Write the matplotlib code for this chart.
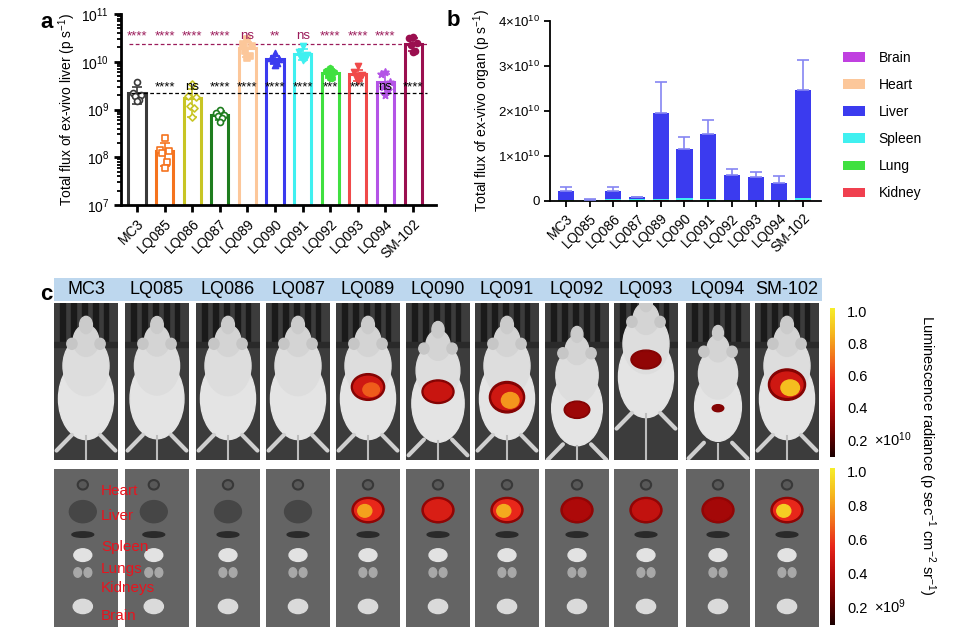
import numpy as np
import matplotlib
matplotlib.use("Agg")
import matplotlib.pyplot as plt
from matplotlib.patches import Rectangle, Ellipse, Patch
from matplotlib.colors import LinearSegmentedColormap, Normalize
from matplotlib.colorbar import ColorbarBase
from matplotlib.ticker import LogLocator, NullFormatter

plt.rcParams['font.family'] = ['Liberation Sans', 'DejaVu Sans']
plt.rcParams['mathtext.fontset'] = 'custom'
plt.rcParams['mathtext.rm'] = 'Liberation Sans'
plt.rcParams['mathtext.it'] = 'Liberation Sans:italic'
plt.rcParams['mathtext.bf'] = 'Liberation Sans:bold'

# ---------------- data ----------------
groups = ['MC3', 'LQ085', 'LQ086', 'LQ087', 'LQ089', 'LQ090', 'LQ091',
          'LQ092', 'LQ093', 'LQ094', 'SM-102']

# panel a: individual ex-vivo liver flux (p/s), 6 mice per group
liver_points = [
    [3.8e9, 2.2e9, 2.0e9, 1.9e9, 1.6e9, 1.5e9],
    [2.5e8, 1.45e8, 1.35e8, 1.25e8, 8.0e7, 6.0e7],
    [3.5e9, 1.9e9, 1.8e9, 1.2e9, 1.1e9, 7.0e8],
    [1.0e9, 8.5e8, 7.8e8, 7.2e8, 6.5e8, 5.5e8],
    [3.0e10, 2.4e10, 2.1e10, 1.7e10, 1.3e10, 1.2e10],
    [1.5e10, 1.2e10, 1.15e10, 1.1e10, 9.5e9, 8.5e9],
    [2.1e10, 1.6e10, 1.4e10, 1.3e10, 1.2e10, 1.1e10],
    [7.5e9, 6.5e9, 6.0e9, 5.2e9, 4.5e9, 4.5e9],
    [8.0e9, 6.0e9, 5.3e9, 4.8e9, 4.5e9, 4.0e9],
    [6.0e9, 5.5e9, 3.8e9, 3.0e9, 2.5e9, 2.0e9],
    [3.3e10, 3.1e10, 2.5e10, 2.2e10, 1.7e10, 1.6e10],
]
sig_vs_sm102 = ['****', '****', '****', '****', 'ns', '**', 'ns',
                '****', '****', '****', '']
sig_vs_mc3 = ['', '****', 'ns', '****', '****', '****', '****',
              '***', '***', 'ns', '****']

# panel b: stacked organ flux (p/s), means and SD of liver
organs = ['Kidney', 'Lung', 'Spleen', 'Liver', 'Heart', 'Brain']
kidney = [3e7, 1e7, 5e7, 2e7, 5e7, 5e7, 3e7, 2e7, 2e7, 2e7, 8e7]
lung = [5e7, 2e7, 1e8, 5e7, 8e7, 8e7, 6e7, 4e7, 3e7, 3e7, 1e8]
spleen = [1.5e8, 5e7, 3e8, 2e8, 3e8, 5e8, 2e8, 1e8, 1e8, 5e7, 4e8]
liver = [2.0e9, 1.0e8, 1.6e9, 5.5e8, 1.9e10, 1.08e10, 1.45e10, 5.5e9, 5.15e9,
         3.9e9, 2.40e10]
liver_sd = [0.9e9, 0.1e9, 1.1e9, 0.1e9, 7.0e9, 2.8e9, 3.2e9, 1.4e9, 1.0e9,
            1.5e9, 6.7e9]
heart = [1e7, 5e6, 1e7, 1e7, 5e7, 2e7, 2e7, 1e7, 1e7, 1e7, 1e8]
brain = [5e6, 2e6, 5e6, 5e6, 8e7, 1e7, 1e7, 5e7, 5e6, 5e6, 1e7]

# panel c: relative luminescence of liver signal
mouse_signal = [0, 0, 0, 0, 0.62, 0.40, 0.75, 0.28, 0.25, 0.22, 0.85]
organ_signal = [0, 0, 0, 0, 0.78, 0.45, 0.80, 0.32, 0.38, 0.30, 0.90]
organ_labels = ['Heart', 'Liver', 'Spleen', 'Lungs', 'Kidneys', 'Brain']
cbar_ticks = [0.2, 0.4, 0.6, 0.8, 1.0]

# ---------------- styles ----------------
colors_a = ['#3a3a3a', '#F5731E', '#C8C524', '#1E7D1E', '#FCC79A', '#3B3BEF',
            '#40F0F0', '#40E040', '#F04A4A', '#B454E6', '#9B0F4F']
markers_a = ['o', 's', 'D', 'o', 's', '^', 'v', 'h', 'v', '*', 'o']
filled_a = [False, False, False, False, True, True, True, True, True, True, True]
organ_colors = {'Brain': '#C040E0', 'Heart': '#FCC79A', 'Liver': '#3B3BEF',
                'Spleen': '#40F0F0', 'Lung': '#40E040', 'Kidney': '#F0404F'}
lum_cmap = LinearSegmentedColormap.from_list(
    'lum', ['#1a0000', '#6e0000', '#b30a0a', '#e8261a', '#f2711c',
            '#f5b81e', '#f6ee2a'])

W, H = 971, 644
fig = plt.figure(figsize=(W / 100, H / 100), dpi=100)


def fx(px):
    return px / W


def fy(py):
    return 1 - py / H


# ---------------- panel a ----------------
axa = fig.add_axes([fx(121), fy(205), fx(436) - fx(121), fy(14) - fy(205)])
x = np.arange(len(groups))
means = [np.mean(p) for p in liver_points]
sds = [np.std(p, ddof=1) for p in liver_points]
offsets = [0.0, -0.15, 0.15, -0.08, 0.08, 0.0]
for i in range(len(groups)):
    c = colors_a[i]
    axa.bar(x[i], means[i], width=0.62, facecolor='white', edgecolor=c,
            linewidth=2.2, zorder=2)
    lo = min(sds[i], means[i] * 0.6)
    axa.errorbar(x[i], means[i], yerr=[[lo], [sds[i]]], color=c,
                 capsize=3.5, elinewidth=1.2, capthick=1.2, zorder=3)
    xs = x[i] + np.array(offsets)
    ms = 4.3 if markers_a[i] != 'D' else 3.6
    if markers_a[i] == '*':
        ms = 5.2
    axa.scatter(xs, liver_points[i], marker=markers_a[i], s=ms ** 2,
                facecolor=c if filled_a[i] else 'white', edgecolor=c,
                linewidth=1.2, zorder=4)
axa.set_yscale('log')
axa.set_ylim(1e7, 1e11)
axa.set_xlim(-0.58, 10.83)
axa.plot([-0.3, 10.5], [means[-1]] * 2, ls=(0, (3, 2)), color='#9B1B5A',
         lw=0.9, zorder=1)
axa.plot([-0.2, 10.5], [means[0]] * 2, ls=(0, (3, 2)), color='black',
         lw=0.9, zorder=5)
for i in range(len(groups)):
    if sig_vs_sm102[i]:
        axa.text(x[i], 3.4e10, sig_vs_sm102[i], ha='center', va='center',
                 fontsize=9.5, color='#9B1B5A', zorder=6)
    if sig_vs_mc3[i]:
        axa.text(x[i], 2.95e9, sig_vs_mc3[i], ha='center', va='center',
                 fontsize=9.5, color='black', zorder=6)
axa.set_xticks(x)
axa.set_xticklabels(groups, rotation=45, ha='right', rotation_mode='anchor',
                    fontsize=10)
axa.yaxis.set_major_locator(LogLocator(base=10, numticks=10))
axa.yaxis.set_minor_locator(LogLocator(base=10, subs=np.arange(2, 10), numticks=20))
axa.yaxis.set_minor_formatter(NullFormatter())
for s in ['top', 'right']:
    axa.spines[s].set_visible(False)
for s in ['left', 'bottom']:
    axa.spines[s].set_linewidth(2.0)
axa.tick_params(axis='both', which='major', width=2.0, length=5, labelsize=10,
                direction='out')
axa.tick_params(axis='y', which='minor', width=1.3, length=3)
axa.set_ylabel('Total flux of ex-vivo liver (p s$^{-1}$)', fontsize=10,
               labelpad=2)
fig.text(fx(40), fy(28), 'a', fontsize=16, fontweight='bold', ha='left',
         va='baseline')

# ---------------- panel b ----------------
axb = fig.add_axes([fx(550), fy(200.7), fx(821) - fx(550), fy(21) - fy(200.7)])
stack = {'Kidney': kidney, 'Lung': lung, 'Spleen': spleen, 'Liver': liver,
         'Heart': heart, 'Brain': brain}
bottom = np.zeros(len(groups))
liver_top = None
for org in organs:
    vals = np.array(stack[org])
    axb.bar(x, vals, bottom=bottom, width=0.68, color=organ_colors[org],
            edgecolor='none', zorder=2)
    bottom = bottom + vals
    if org == 'Liver':
        liver_top = bottom.copy()
axb.errorbar(x, liver_top, yerr=[np.zeros(len(groups)), liver_sd], fmt='none',
             ecolor='#8585F2', elinewidth=1.2, capsize=4, capthick=1.2, zorder=3)
axb.set_xlim(-0.675, 10.76)
axb.set_ylim(0, 4e10)
yt = [0, 1e10, 2e10, 3e10, 4e10]
axb.set_yticks(yt)
axb.set_yticklabels(['0'] + [r'%d$\times$10$^{10}$' % (v / 1e10) for v in yt[1:]],
                    fontsize=9.5)
axb.set_xticks(x)
axb.set_xticklabels(groups, rotation=45, ha='right', rotation_mode='anchor',
                    fontsize=10)
for s in ['top', 'right']:
    axb.spines[s].set_visible(False)
for s in ['left', 'bottom']:
    axb.spines[s].set_linewidth(1.3)
axb.tick_params(axis='both', width=1.3, length=4, direction='out')
axb.set_ylabel('Total flux of ex-vivo organ (p s$^{-1}$)', fontsize=10,
               labelpad=3)
handles = [Patch(facecolor=organ_colors[o], edgecolor='none', label=o)
           for o in ['Brain', 'Heart', 'Liver', 'Spleen', 'Lung', 'Kidney']]
fig.legend(handles=handles, loc='upper left', bbox_to_anchor=(fx(830), fy(38)),
           frameon=False, fontsize=10, handlelength=1.6, handleheight=0.7,
           labelspacing=0.95, handletextpad=1.0)
fig.text(fx(447), fy(26), 'b', fontsize=16, fontweight='bold', ha='left',
         va='baseline')

# ---------------- panel c ----------------
fig.text(fx(40), fy(300), 'c', fontsize=16, fontweight='bold', ha='left',
         va='baseline')
fig.patches.append(Rectangle((fx(54), fy(301)), fx(822) - fx(54),
                             fy(278) - fy(301), transform=fig.transFigure,
                             facecolor='#BDD7EE', edgecolor='none', zorder=0))
col_left = [54, 125, 196, 266, 336, 406, 475, 545, 614, 686, 755]
col_w = 64
mouse_shift = [0, 0, 0, 0, 0, -0.03, 0, -0.06, 0.14, -0.05, 0]
mouse_scale = [1, 0.98, 1, 1, 1, 0.95, 1, 0.92, 1, 0.85, 1]
blob_y = [0, 0, 0, 0, 0.465, 0.435, 0.40, 0.32, 0.64, 0.33, 0.48]
blob_w = [0, 0, 0, 0, 0.52, 0.50, 0.55, 0.40, 0.47, 0.18, 0.58]
blob_h = [0, 0, 0, 0, 0.17, 0.15, 0.20, 0.11, 0.12, 0.045, 0.20]

for i, g in enumerate(groups):
    xc = col_left[i] + col_w / 2
    fig.text(fx(xc), fy(290), g, ha='center', va='center', fontsize=13)

    # top row: whole mouse
    ax = fig.add_axes([fx(col_left[i]), fy(460), fx(col_w), fy(303) - fy(460)])
    ax.set_xlim(0, 1)
    ax.set_ylim(0, 1)
    ax.axis('off')
    ax.add_patch(Rectangle((0, 0), 1, 1, color='#3c3c3c'))
    for bx in [0.1, 0.27, 0.44, 0.61, 0.78]:
        ax.add_patch(Rectangle((bx, 0.74), 0.07, 0.26, color='#1a1a1a'))
    ax.add_patch(Rectangle((0, 0.72), 1, 0.03, color='#2a2a2a'))
    sh = mouse_shift[i]
    sc = mouse_scale[i]
    ax.plot([0.28, 0.04], [0.16 + sh, 0.06 + sh], color='#cfcfcf', lw=3,
            solid_capstyle='round')
    ax.plot([0.72, 0.96], [0.16 + sh, 0.06 + sh], color='#cfcfcf', lw=3,
            solid_capstyle='round')
    ax.plot([0.5, 0.5], [0.15 + sh, -0.05], color='#bdbdbd', lw=1.5)
    ax.add_patch(Ellipse((0.5, 0.39 + sh), 0.86 * sc, 0.52 * sc, color='#e4e4e4'))
    ax.add_patch(Ellipse((0.5, 0.60 + sh), 0.72 * sc, 0.38 * sc, color='#dddddd'))
    ax.add_patch(Ellipse((0.5, 0.76 + sh), 0.40 * sc, 0.2 * sc, color='#d4d4d4'))
    ax.add_patch(Ellipse((0.5, 0.86 + sh), 0.2 * sc, 0.11 * sc, color='#cbcbcb'))
    ax.add_patch(Ellipse((0.28, 0.74 + sh), 0.16, 0.07, color='#c6c6c6'))
    ax.add_patch(Ellipse((0.72, 0.74 + sh), 0.16, 0.07, color='#c6c6c6'))
    sig = mouse_signal[i]
    if sig > 0:
        by, bw, bh = blob_y[i], blob_w[i], blob_h[i]
        ax.add_patch(Ellipse((0.5, by), bw, bh, color=lum_cmap(0.22)))
        ax.add_patch(Ellipse((0.5, by), bw * 0.86, bh * 0.8,
                             color=lum_cmap(min(sig, 0.42))))
        if sig > 0.45:
            ax.add_patch(Ellipse((0.55, by - bh * 0.1), bw * 0.5, bh * 0.5,
                                 color=lum_cmap(sig)))

    # bottom row: organs
    ax2 = fig.add_axes([fx(col_left[i]), fy(627), fx(col_w), fy(469) - fy(627)])
    ax2.set_xlim(0, 1)
    ax2.set_ylim(0, 1)
    ax2.axis('off')
    ax2.add_patch(Rectangle((0, 0), 1, 1, color='#646464'))
    cx = 0.5 if i > 1 else 0.45
    ax2.add_patch(Ellipse((cx, 0.9), 0.16, 0.06, facecolor='#585858',
                          edgecolor='#383838', lw=1.5))
    ax2.add_patch(Ellipse((cx, 0.73), 0.42, 0.14, color='#464646'))
    ax2.add_patch(Ellipse((cx, 0.585), 0.34, 0.035, color='#2a2a2a'))
    ax2.add_patch(Ellipse((cx, 0.455), 0.28, 0.08, color='#e2e2e2'))
    ax2.add_patch(Ellipse((cx - 0.08, 0.345), 0.12, 0.06, color='#a8a8a8'))
    ax2.add_patch(Ellipse((cx + 0.08, 0.345), 0.12, 0.06, color='#a8a8a8'))
    ax2.add_patch(Ellipse((cx, 0.13), 0.3, 0.09, color='#dadada'))
    osig = organ_signal[i]
    if osig > 0:
        ax2.add_patch(Ellipse((cx, 0.74), 0.5, 0.16, color=lum_cmap(0.25)))
        ax2.add_patch(Ellipse((cx, 0.74), 0.42, 0.13,
                              color=lum_cmap(min(osig, 0.5))))
        if osig > 0.5:
            ax2.add_patch(Ellipse((cx - 0.05, 0.735), 0.22, 0.08,
                                  color=lum_cmap(osig)))

organ_label_y = [491, 516, 547, 569, 588, 616]
for lab, ly in zip(organ_labels, organ_label_y):
    fig.text(fx(101), fy(ly), lab, color='#E8141E', fontsize=11, ha='left',
             va='center', zorder=10)

# colorbars
norm = Normalize(vmin=0.095, vmax=1.02)
for (top, bot, exp) in [(308, 457, '10'), (468, 625, '9')]:
    cax = fig.add_axes([fx(830), fy(bot), fx(4.5), fy(top) - fy(bot)])
    cb = ColorbarBase(cax, cmap=lum_cmap, norm=norm, orientation='vertical')
    cb.outline.set_visible(False)
    cb.set_ticks(cbar_ticks)
    cb.set_ticklabels(['%.1f' % t for t in cbar_ticks])
    cax.tick_params(length=0, labelsize=10.5, pad=9)
    yb = top + (bot - top) * (1.02 - 0.2) / (1.02 - 0.095)
    fig.text(fx(874), fy(yb), r'$\times$10$^{%s}$' % exp, fontsize=10.5,
             ha='left', va='center')

fig.text(fx(927), fy(455),
         'Luminescence radiance (p sec$^{-1}$ cm$^{-2}$ sr$^{-1}$)',
         rotation=-90, ha='center', va='center', fontsize=10.5)

fig.savefig('out.png', dpi=100)
